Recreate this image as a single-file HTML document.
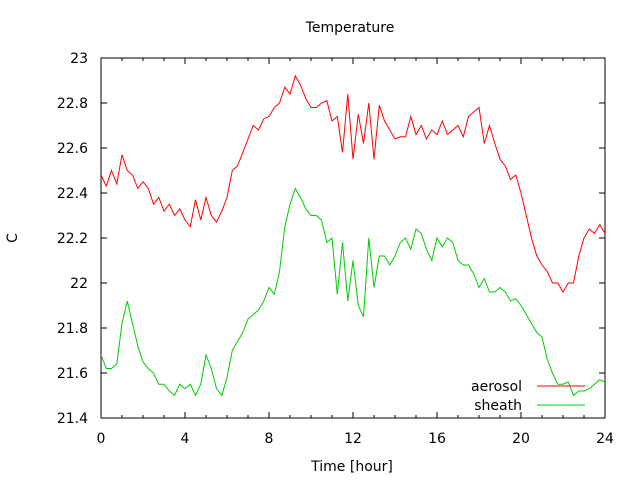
<!DOCTYPE html>
<html><head><meta charset="utf-8"><style>
body{margin:0;background:#fff}
svg{display:block;font-family:"DejaVu Sans","Liberation Sans",sans-serif;font-size:14px}
</style></head><body>
<svg id="chart" width="640" height="480">
<text x="350" y="32" text-anchor="middle">Temperature</text>
<text x="352" y="471" text-anchor="middle">Time [hour]</text>
<text x="17" y="238" text-anchor="middle" transform="rotate(-90 17 238)">C</text>
<rect x="101" y="58" width="504" height="360" fill="none" stroke="#000" stroke-width="1"/>
<g id="ticks"></g>
<g id="series"></g>
<text x="522" y="391" text-anchor="end">aerosol</text>
<line x1="537" y1="386" x2="585" y2="386" stroke="#f00"/>
<text x="522" y="410" text-anchor="end">sheath</text>
<line x1="537" y1="405" x2="585" y2="405" stroke="#0c0"/>
</svg>
<script>
const xTicks=[0,4,8,12,16,20,24];
const yTicks=[21.4,21.6,21.8,22,22.2,22.4,22.6,22.8,23];
const yTickLabels=["21.4","21.6","21.8","22","22.2","22.4","22.6","22.8","23"];
const step=0.25;
const aerosol=[22.48,22.43,22.50,22.44,22.57,22.50,22.48,22.42,22.45,22.42,22.35,22.38,22.32,22.35,22.30,22.33,22.28,22.25,22.37,22.28,22.38,22.30,22.27,22.32,22.38,22.50,22.52,22.58,22.64,22.70,22.68,22.73,22.74,22.78,22.80,22.87,22.84,22.92,22.88,22.82,22.78,22.78,22.80,22.81,22.72,22.74,22.58,22.84,22.55,22.75,22.62,22.80,22.55,22.79,22.72,22.68,22.64,22.65,22.65,22.74,22.66,22.70,22.64,22.68,22.66,22.72,22.66,22.68,22.70,22.65,22.74,22.76,22.78,22.62,22.70,22.62,22.55,22.52,22.46,22.48,22.40,22.30,22.20,22.12,22.08,22.05,22.00,22.00,21.96,22.00,22.00,22.12,22.20,22.24,22.22,22.26,22.22];
const sheath=[21.68,21.62,21.62,21.64,21.82,21.92,21.82,21.72,21.65,21.62,21.60,21.55,21.55,21.52,21.50,21.55,21.53,21.55,21.50,21.55,21.68,21.62,21.53,21.50,21.58,21.70,21.74,21.78,21.84,21.86,21.88,21.92,21.98,21.95,22.05,22.25,22.35,22.42,22.38,22.33,22.30,22.30,22.28,22.18,22.20,21.95,22.18,21.92,22.10,21.90,21.85,22.20,21.98,22.12,22.12,22.08,22.12,22.18,22.20,22.15,22.24,22.22,22.15,22.10,22.20,22.16,22.20,22.18,22.10,22.08,22.08,22.04,21.98,22.02,21.96,21.96,21.98,21.96,21.92,21.93,21.90,21.86,21.82,21.78,21.76,21.66,21.60,21.55,21.55,21.56,21.50,21.52,21.52,21.53,21.55,21.57,21.56];
const NS="http://www.w3.org/2000/svg";
const X=v=>101+v*(504/24);
const Y=v=>418-(v-21.4)*225;
const tg=document.getElementById('ticks');
function mk(tag,attrs,parent){const e=document.createElementNS(NS,tag);for(const k in attrs)e.setAttribute(k,attrs[k]);parent.appendChild(e);return e;}
xTicks.forEach(t=>{
  const l=mk('line',{x1:X(t),x2:X(t),y1:418,y2:412,stroke:'#000'},tg);
  
  
  const l2=mk('line',{x1:X(t),x2:X(t),y1:58,y2:64,stroke:'#000'},tg);
  
  
  const tx=mk('text',{x:X(t),y:443,'text-anchor':'middle'},tg);tx.textContent=t;
  
  
});
for(let h=1;h<24;h++){if(h%4===0)continue;
  const m=mk('line',{x1:X(h),x2:X(h),y1:418,y2:415,stroke:'#000'},tg);
  
  
  const m2=mk('line',{x1:X(h),x2:X(h),y1:58,y2:61,stroke:'#000'},tg);
  
  
}
yTicks.forEach((t,i)=>{
  const l=mk('line',{x1:101,x2:107,y1:Y(t),y2:Y(t),stroke:'#000'},tg);
  
  
  const l2=mk('line',{x1:599,x2:605,y1:Y(t),y2:Y(t),stroke:'#000'},tg);
  
  
  const tx=mk('text',{x:88,y:Y(t)+5,'text-anchor':'end'},tg);tx.textContent=yTickLabels[i];
  
  
});
const sg=document.getElementById('series');
function line(arr,color,name){
  const pts=arr.map((v,i)=>X(i*step).toFixed(1)+','+Y(v).toFixed(1)).join(' ');
  const p=mk('polyline',{points:pts,fill:'none',stroke:color,'stroke-width':1},sg);
  
  
}
line(aerosol,'#f00','aerosol-line');
line(sheath,'#0c0','sheath-line');
</script>
</body></html>
